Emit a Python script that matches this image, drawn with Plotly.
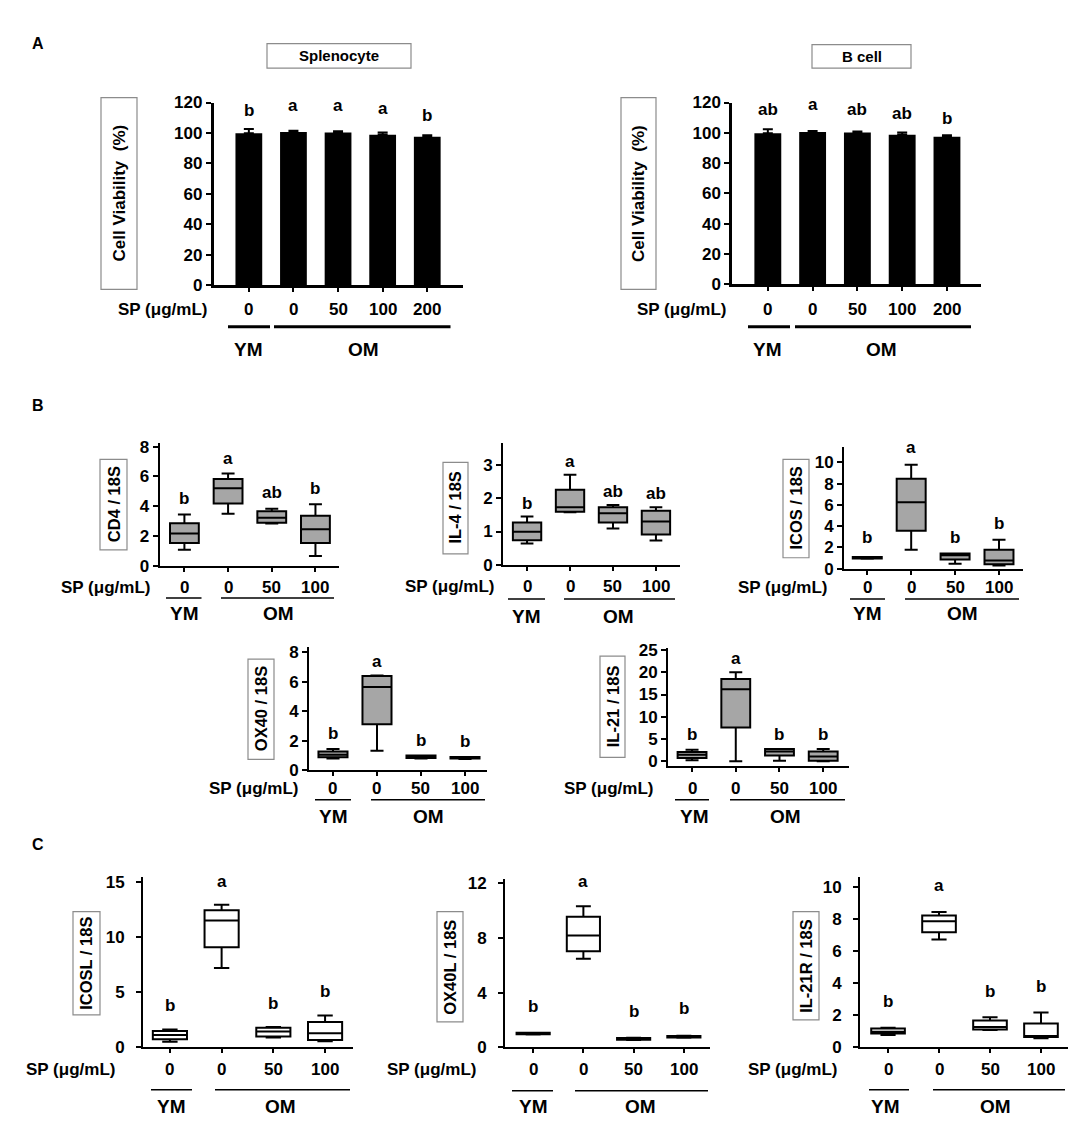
import plotly.graph_objects as go

W, H = 1084, 1131
FONT = "Liberation Sans, Arial, Helvetica, sans-serif"

# ---------------- data ----------------
sp_a = ["0", "0", "50", "100", "200"]
sp_b = ["0", "0", "50", "100"]

# A: cell viability (%)
splen_mean = [99.9, 100.6, 100.4, 98.9, 97.6]
splen_err = [2.8, 0.9, 0.8, 1.5, 1.0]
splen_sig = ["b", "a", "a", "a", "b"]

bcell_mean = [99.8, 100.6, 100.3, 98.8, 97.4]
bcell_err = [2.5, 0.6, 0.6, 1.5, 1.0]
bcell_sig = ["ab", "a", "ab", "ab", "b"]

# B: box stats (min, q1, median, q3, max) per group
cd4_min = [1.06, 3.48, 2.83, 0.64]
cd4_q1 = [1.52, 4.17, 2.89, 1.52]
cd4_med = [2.16, 5.20, 3.22, 2.45]
cd4_q3 = [2.84, 5.82, 3.66, 3.35]
cd4_max = [3.44, 6.19, 3.83, 4.12]
cd4_sig = ["b", "a", "ab", "b"]

il4_min = [0.64, 1.58, 1.09, 0.73]
il4_q1 = [0.74, 1.60, 1.27, 0.91]
il4_med = [0.99, 1.73, 1.55, 1.30]
il4_q3 = [1.27, 2.26, 1.73, 1.63]
il4_max = [1.45, 2.71, 1.80, 1.73]
il4_sig = ["b", "a", "ab", "ab"]

icos_min = [0.92, 1.78, 0.46, 0.30]
icos_q1 = [0.95, 3.57, 0.86, 0.40]
icos_med = [1.02, 6.25, 1.26, 0.77]
icos_q3 = [1.08, 8.46, 1.42, 1.78]
icos_max = [1.10, 9.78, 1.42, 2.71]
icos_sig = ["b", "a", "b", "b"]

ox40_min = [0.78, 1.31, 0.78, 0.76]
ox40_q1 = [0.87, 3.11, 0.82, 0.78]
ox40_med = [1.04, 5.64, 0.93, 0.84]
ox40_q3 = [1.27, 6.38, 1.00, 0.89]
ox40_max = [1.44, 6.42, 1.00, 0.89]
ox40_sig = ["b", "a", "b", "b"]

il21_min = [0.22, 0.00, 0.15, 0.00]
il21_q1 = [0.74, 7.60, 1.30, 0.15]
il21_med = [1.48, 16.2, 2.20, 1.10]
il21_q3 = [2.08, 18.5, 2.74, 2.20]
il21_max = [2.60, 20.0, 2.74, 2.74]
il21_sig = ["b", "a", "b", "b"]

# C
icosl_min = [0.50, 7.19, 0.89, 0.56]
icosl_q1 = [0.74, 9.06, 0.98, 0.68]
icosl_med = [1.13, 11.49, 1.43, 1.28]
icosl_q3 = [1.49, 12.41, 1.78, 2.29]
icosl_max = [1.63, 12.92, 1.84, 2.88]
icosl_sig = ["b", "a", "b", "b"]

ox40l_min = [0.95, 6.49, 0.54, 0.71]
ox40l_q1 = [0.97, 7.04, 0.56, 0.73]
ox40l_med = [1.02, 8.19, 0.62, 0.79]
ox40l_q3 = [1.07, 9.55, 0.68, 0.84]
ox40l_max = [1.08, 10.33, 0.70, 0.86]
ox40l_sig = ["b", "a", "b", "b"]

il21r_min = [0.78, 6.73, 1.08, 0.57]
il21r_q1 = [0.86, 7.18, 1.12, 0.65]
il21r_med = [0.98, 7.86, 1.27, 0.71]
il21r_q3 = [1.18, 8.22, 1.67, 1.49]
il21r_max = [1.22, 8.43, 1.88, 2.18]
il21r_sig = ["b", "a", "b", "b"]


def fx(px):
    return px / W


def fy(py):
    return 1 - py / H


fig = go.Figure()
shapes = []
annots = []


def ax_names(i):
    return ("x" if i == 1 else f"x{i}"), ("y" if i == 1 else f"y{i}")


def txt(x, y, s, size=17, xanchor="center", angle=0):
    annots.append(dict(x=fx(x), y=fy(y), xref="paper", yref="paper", text=s,
                       showarrow=False, xanchor=xanchor, yanchor="middle",
                       textangle=angle,
                       font=dict(family=FONT, size=size, color="black", weight="bold")))


def rect(x0, y0, x1, y1, color="#8c8c8c"):
    shapes.append(dict(type="rect", xref="paper", yref="paper",
                       x0=fx(x0), x1=fx(x1), y0=fy(y1), y1=fy(y0),
                       line=dict(color=color, width=1.2)))


def hline(x0, x1, y, w):
    shapes.append(dict(type="line", xref="paper", yref="paper",
                       x0=fx(x0), x1=fx(x1), y0=fy(y), y1=fy(y),
                       line=dict(color="black", width=w)))


def setup_axes(i, xdom, ydom, xr, yr, yticks, ticktext, lw, sp_y, ystand=0):
    xn, yn = ax_names(i)
    tf = dict(family=FONT, size=17, color="black", weight="bold")
    fig.layout["xaxis" if i == 1 else f"xaxis{i}"] = dict(
        domain=[fx(xdom[0]), fx(xdom[1])], range=xr, anchor=yn,
        tickvals=list(range(len(ticktext))), showticklabels=False,
        showline=True, linecolor="black", linewidth=lw,
        ticks="outside", ticklen=4, tickwidth=2, tickcolor="black",
        showgrid=False, zeroline=False)
    fig.layout["yaxis" if i == 1 else f"yaxis{i}"] = dict(
        domain=[fy(ydom[1]), fy(ydom[0])], range=yr, anchor=xn,
        tickvals=yticks, showline=True, linecolor="black", linewidth=lw,
        ticks="outside", ticklen=5, tickwidth=2, tickcolor="black",
        showgrid=False, zeroline=False, tickfont=tf, ticklabelstandoff=ystand)
    # dose tick labels, placed on the x axis scale
    for k, t in enumerate(ticktext):
        annots.append(dict(x=k, y=fy(sp_y), xref=xn, yref="paper", text=t,
                           showarrow=False, yanchor="middle",
                           font=tf))


def letters(i, sig, ys, size=17):
    xn, yn = ax_names(i)
    for k, (s, yv) in enumerate(zip(sig, ys)):
        annots.append(dict(x=k, y=yv, xref=xn, yref=yn, text=s, showarrow=False,
                           yanchor="middle",
                           font=dict(family=FONT, size=size, color="black", weight="bold")))


def groups(sp_right, sp_y, ym, om, line_y, ym_c, om_c, lab_y, lw, size=19):
    txt(sp_right, sp_y, "SP (\u03bcg/mL)", xanchor="right")
    hline(ym[0], ym[1], line_y, lw)
    hline(om[0], om[1], line_y, lw)
    txt(ym_c, lab_y, "YM", size=size)
    txt(om_c, lab_y, "OM", size=size)


# ---------------- A: bar charts ----------------
bar_panels = [
    (1, splen_mean, splen_err, splen_sig, (205.6, 454.5), (87, 273), [-0.79, 4.79],
     [115, 117.8, 117.8, 116.1, 111.4], (93, 82, 129, 277), (259, 27, 403, 52), "Splenocyte",
     201, (220, 262), (266, 442.5), 241, 355),
    (2, bcell_mean, bcell_err, bcell_sig, (724, 973), (87, 272), [-0.8, 4.76],
     [115.7, 119, 115.7, 112.5, 109.7], (613, 82, 648, 277), (804, 28, 903, 52), "B cell",
     720, (740, 782), (787, 963), 759, 873),
]
for (i, mean, err, sig, xd, yd, xr, ly, ybox, tbox, title,
     spr, ym, om, ymc, omc) in bar_panels:
    xn, yn = ax_names(i)
    fig.add_trace(go.Bar(x=list(range(len(mean))), y=mean, width=0.6,
                         marker=dict(color="black", line=dict(width=0)),
                         error_y=dict(type="data", array=err, arrayminus=[0] * len(err),
                                      symmetric=False, color="black", thickness=2, width=5),
                         xaxis=xn, yaxis=yn, showlegend=False))
    setup_axes(i, xd, yd, xr, [0, 120], list(range(0, 121, 20)), sp_a, 2.5, 297)
    letters(i, sig, ly)
    rect(*ybox)
    txt((ybox[0] + ybox[2]) / 2, (ybox[1] + ybox[3]) / 2, "Cell Viability  (%)", angle=-90)
    rect(*tbox)
    txt((tbox[0] + tbox[2]) / 2, (tbox[1] + tbox[3]) / 2, title, size=15)
    groups(spr, 297, ym, om, 315, ymc, omc, 338, 3)

# ---------------- B & C: box plots ----------------
box_panels = [
    # i, stats, sig, xdom, ydom, xr, yr, yticks, letter y, ylabel, ybox, sp_right, sp_y, ym, om, line_y, ymc, omc, lab_y, fill
    (3, (cd4_min, cd4_q1, cd4_med, cd4_q3, cd4_max), cd4_sig, (151.5, 330.6), (433, 558),
     [-0.57, 3.53], [0, 8.26], [0, 2, 4, 6, 8], [4.5, 7.19, 4.94, 5.16], "CD4 / 18S",
     (92, 450, 119, 542), 144, 580, (158, 193.5), (213, 326), 591, 176, 270, 607, "#a6a6a6"),
    (4, (il4_min, il4_q1, il4_med, il4_q3, il4_max), il4_sig, (495, 672), (433, 557),
     [-0.56, 3.56], [0, 3.68], [0, 1, 2, 3], [1.85, 3.11, 2.22, 2.16], "IL-4 / 18S",
     (435, 453, 460, 546), 488, 579, (500, 537), (556, 667), 592, 518, 610, 610, "#a6a6a6"),
    (5, (icos_min, icos_q1, icos_med, icos_q3, icos_max), icos_sig, (836, 1014.7), (437, 561),
     [-0.53, 3.54], [0, 11.48], [0, 2, 4, 6, 8, 10], [2.93, 11.36, 2.93, 4.26], "ICOS / 18S",
     (775, 450, 801, 550), 821, 580, (842, 877), (897, 1011), 592, 859, 954, 607, "#a6a6a6"),
    (6, (ox40_min, ox40_q1, ox40_med, ox40_q3, ox40_max), ox40_sig, (301, 479), (641, 766),
     [-0.545, 3.5], [0, 8.33], [0, 2, 4, 6, 8], [2.49, 7.38, 2.04, 1.93], "OX40 / 18S",
     (240, 653, 266, 755), 292, 785, (307, 343), (363, 477), 796, 325, 420, 813, "#a6a6a6"),
    (7, (il21_min, il21_q1, il21_med, il21_q3, il21_max), il21_sig, (660, 841), (642, 762),
     [-0.55, 3.59], [-1.1, 25.4], [0, 5, 10, 15, 20, 25], [6.1, 23.1, 6.1, 6.1], "IL-21 / 18S",
     (592, 650, 617, 753), 647, 785, (667, 701), (722, 837), 796, 686, 777, 813, "#a6a6a6"),
    (8, (icosl_min, icosl_q1, icosl_med, icosl_q3, icosl_max), icosl_sig, (135, 345), (875, 1048),
     [-0.52, 3.54], [0, 15.4], [0, 5, 10, 15], [3.8, 15.06, 3.95, 5.05], "ICOSL / 18S",
     (65, 910, 92, 1015), 109, 1070, (143, 184), (207, 342), 1091, 163, 272, 1108, "white"),
    (9, (ox40l_min, ox40l_q1, ox40l_med, ox40l_q3, ox40l_max), ox40l_sig, (497, 702), (877, 1048),
     [-0.56, 3.52], [0, 12.3], [0, 4, 8, 12], [2.98, 12.1, 2.63, 2.82], "OX40L / 18S",
     (429, 910, 455, 1022), 470, 1070, (504, 545), (567, 700), 1092, 525, 632, 1108, "white"),
    (10, (il21r_min, il21r_q1, il21r_med, il21r_q3, il21r_max), il21r_sig, (852, 1060), (875, 1048),
     [-0.55, 3.53], [0, 10.6], [0, 2, 4, 6, 8, 10], [2.86, 10.06, 3.47, 3.78], "IL-21R / 18S",
     (785, 910, 811, 1020), 831, 1070, (861, 901), (925, 1057), 1091, 877, 987, 1108, "white"),
]

for (i, stats, sig, xd, yd, xr, yr, yt, ly, ylab, ybox, spr, spy, ym, om, liney,
     ymc, omc, laby, fill) in box_panels:
    xn, yn = ax_names(i)
    lo, q1, med, q3, hi = stats
    fig.add_trace(go.Box(x=list(range(len(med))), lowerfence=lo, q1=q1, median=med,
                         q3=q3, upperfence=hi, width=0.66, whiskerwidth=0.45,
                         fillcolor=fill, line=dict(color="black", width=2),
                         boxpoints=False, xaxis=xn, yaxis=yn, showlegend=False))
    stand = 8 if i >= 8 else 0
    setup_axes(i, xd, yd, xr, yr, yt, sp_b, 2, spy, ystand=stand)
    letters(i, sig, ly)
    rect(*ybox)
    txt((ybox[0] + ybox[2]) / 2, (ybox[1] + ybox[3]) / 2, ylab, size=16.5, angle=-90)
    groups(spr, spy, ym, om, liney, ymc, omc, laby, 1.5)

# panel letters
txt(22, 27, "A", size=16, xanchor="left")
txt(22, 395, "B", size=16, xanchor="left")
txt(22, 842, "C", size=16, xanchor="left")

fig.update_layout(width=W, height=H, margin=dict(l=0, r=0, t=0, b=0),
                  paper_bgcolor="white", plot_bgcolor="white",
                  shapes=shapes, annotations=annots, showlegend=False,
                  font=dict(family=FONT, color="black"))

fig.write_html("out.html")
